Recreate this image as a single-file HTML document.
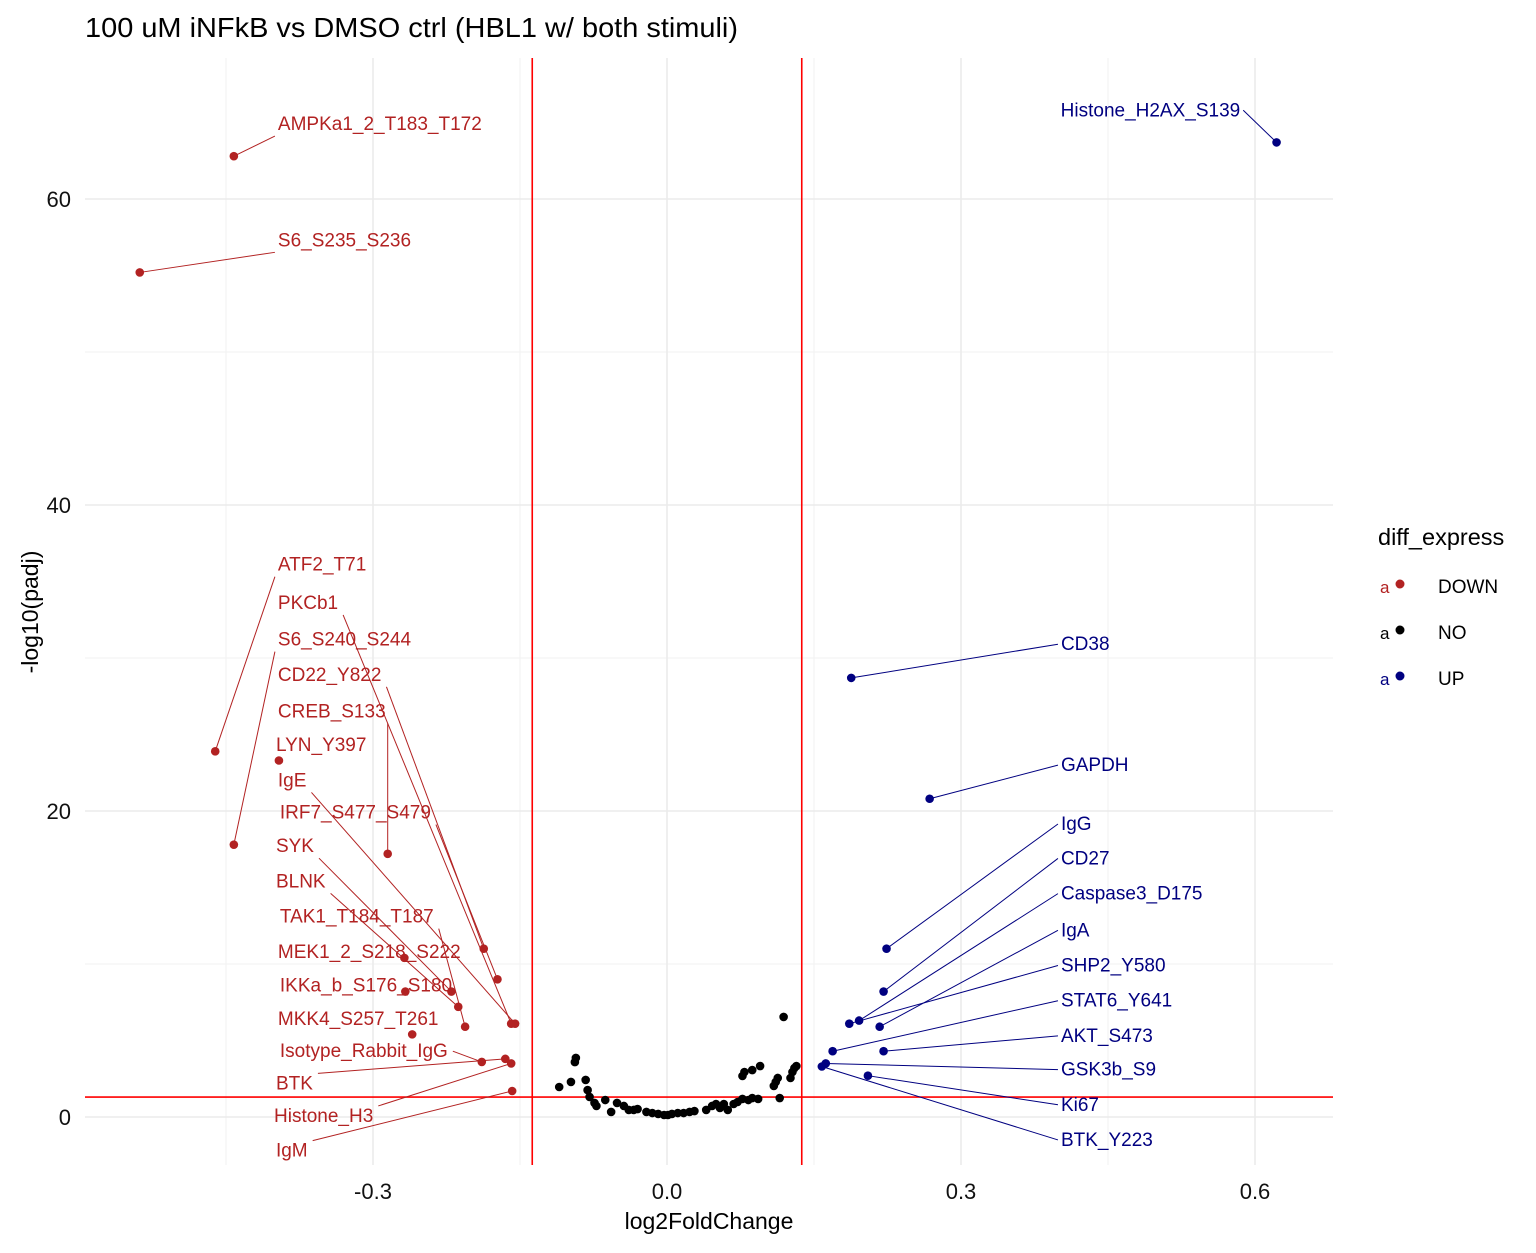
<!DOCTYPE html>
<html><head><meta charset="utf-8"><style>
body{margin:0;background:#fff;font-family:"Liberation Sans",sans-serif}
svg text{font-family:"Liberation Sans",sans-serif}
</style></head><body>
<svg id="chart" width="1536" height="1248" xmlns="http://www.w3.org/2000/svg">
<rect width="1536" height="1248" fill="#fff"/>
<text x="85" y="37" font-size="28" fill="#000" textLength="653" lengthAdjust="spacingAndGlyphs">100 uM iNFkB vs DMSO ctrl (HBL1 w/ both stimuli)</text>
<g id="grid"></g><g id="refs"></g><g id="segs"></g><g id="pts"></g><g id="labs"></g><g id="axes"></g>
<text x="709" y="1229" font-size="23" text-anchor="middle">log2FoldChange</text>
<text transform="translate(38,612) rotate(-90)" font-size="23" text-anchor="middle">-log10(padj)</text>
<g>
<text x="1378" y="545" font-size="23.5">diff_express</text>
<g><text x="1380" y="593" font-size="17" fill="#B22222">a</text><circle cx="1400" cy="584" r="4.5" fill="#B22222"/><text x="1438" y="593" font-size="19">DOWN</text></g>
<g><text x="1380" y="639" font-size="17" fill="#000">a</text><circle cx="1400" cy="630" r="4.5" fill="#000"/><text x="1438" y="639" font-size="19">NO</text></g>
<g><text x="1380" y="685" font-size="17" fill="#000080">a</text><circle cx="1400" cy="676" r="4.5" fill="#000080"/><text x="1438" y="685" font-size="19">UP</text></g>
</g>
</svg>
<script>
const xTicks=[-0.3,0,0.3,0.6];
const xTickLabels=["-0.3","0.0","0.3","0.6"];
const yTicks=[0,20,40,60];
const yTickLabels=["0","20","40","60"];
const xMinor=[-0.45,-0.15,0.15,0.45];
const yMinor=[10,30,50];
const fcCut=0.1375, padjCut=1.301;
const downX=[-0.442,-0.538,-0.461,-0.396,-0.442,-0.285,-0.187,-0.173,-0.268,-0.267,-0.220,-0.213,-0.206,-0.159,-0.155,-0.260,-0.189,-0.165,-0.159,-0.158];
const downY=[62.8,55.2,23.9,23.3,17.8,17.2,11.0,9.0,10.4,8.2,8.2,7.2,5.9,6.1,6.1,5.4,3.6,3.8,3.5,1.7];
const upX=[0.622,0.188,0.268,0.224,0.221,0.186,0.196,0.217,0.169,0.221,0.162,0.158,0.205];
const upY=[63.7,28.7,20.8,11.0,8.2,6.1,6.3,5.9,4.3,4.3,3.5,3.3,2.7];
const noX=[-0.110,-0.098,-0.094,-0.093,-0.083,-0.081,-0.079,-0.074,-0.072,-0.063,-0.057,-0.051,-0.044,-0.039,-0.034,-0.030,-0.021,-0.015,-0.009,-0.003,0.001,0.005,0.011,0.017,0.023,0.028,0.040,0.046,0.050,0.054,0.058,0.062,0.068,0.072,0.077,0.083,0.087,0.093,0.077,0.079,0.087,0.095,0.109,0.111,0.113,0.115,0.119,0.126,0.128,0.130,0.132];
const noY=[1.96,2.29,3.59,3.86,2.42,1.76,1.31,0.92,0.72,1.11,0.33,0.92,0.72,0.46,0.46,0.52,0.33,0.26,0.20,0.13,0.13,0.20,0.26,0.26,0.33,0.39,0.46,0.72,0.85,0.59,0.85,0.46,0.85,0.98,1.18,1.11,1.24,1.18,2.68,2.94,3.07,3.33,2.03,2.29,2.55,1.24,6.54,2.55,2.94,3.20,3.33];
const downLabels=["AMPKa1_2_T183_T172","S6_S235_S236","ATF2_T71","PKCb1","S6_S240_S244","CD22_Y822","CREB_S133","LYN_Y397","IgE","IRF7_S477_S479","SYK","BLNK","TAK1_T184_T187","MEK1_2_S218_S222","IKKa_b_S176_S180","MKK4_S257_T261","Isotype_Rabbit_IgG","BTK","Histone_H3","IgM"];
const downLabelPt=[0,1,2,13,4,6,5,3,14,7,10,11,12,8,9,15,16,17,18,19];
const downLabelX=[-0.396,-0.396,-0.396,-0.396,-0.396,-0.396,-0.396,-0.398,-0.396,-0.394,-0.398,-0.398,-0.394,-0.396,-0.394,-0.396,-0.394,-0.398,-0.400,-0.398];
const downLabelY=[64.9,57.3,36.1,33.6,31.2,28.9,26.5,24.3,22.0,19.9,17.7,15.4,13.1,10.8,8.6,6.4,4.3,2.2,0.07,-2.2];
const upLabels=["Histone_H2AX_S139","CD38","GAPDH","IgG","CD27","Caspase3_D175","IgA","SHP2_Y580","STAT6_Y641","AKT_S473","GSK3b_S9","Ki67","BTK_Y223"];
const upLabelPt=[0,1,2,3,4,6,7,5,8,9,10,12,11];
const upLabelX=[0.588,0.402,0.402,0.402,0.402,0.402,0.402,0.402,0.402,0.402,0.402,0.402,0.402];
const upLabelY=[65.8,30.9,23.0,19.15,16.9,14.6,12.2,9.9,7.6,5.3,3.1,0.8,-1.5];

const X=v=>667+v*980, Y=v=>1117-v*15.3;
const L=85,R=1333,T=58,B=1165;
const NS="http://www.w3.org/2000/svg";
function mk(tag,parent,attrs){const e=document.createElementNS(NS,tag);for(const k in attrs)e.setAttribute(k,attrs[k]);document.getElementById(parent).appendChild(e);return e;}
xMinor.forEach(v=>{const e=mk('line','grid',{x1:X(v),x2:X(v),y1:T,y2:B,stroke:'#f2f2f2','stroke-width':1});

});
yMinor.forEach(v=>{const e=mk('line','grid',{x1:L,x2:R,y1:Y(v),y2:Y(v),stroke:'#f2f2f2','stroke-width':1});

});
xTicks.forEach((v,i)=>{const e=mk('line','grid',{x1:X(v),x2:X(v),y1:T,y2:B,stroke:'#ebebeb','stroke-width':1.6});


const t=mk('text','axes',{x:X(v),y:1199,'font-size':22,'text-anchor':'middle',fill:'#111'});t.textContent=xTickLabels[i];

});
yTicks.forEach((v,i)=>{const e=mk('line','grid',{x1:L,x2:R,y1:Y(v),y2:Y(v),stroke:'#ebebeb','stroke-width':1.6});


const t=mk('text','axes',{x:71,y:Y(v)+8,'font-size':22,'text-anchor':'end',fill:'#111'});t.textContent=yTickLabels[i];

});
[-fcCut,fcCut].forEach(v=>{const e=mk('line','refs',{x1:X(v),x2:X(v),y1:T,y2:B,stroke:'#ff0000','stroke-width':1.6});

});
{const e=mk('line','refs',{x1:L,x2:R,y1:Y(padjCut),y2:Y(padjCut),stroke:'#ff0000','stroke-width':1.6});

}
noX.forEach((v,i)=>{const c=mk('circle','pts',{cx:X(v),cy:Y(noY[i]),r:4.3,fill:'#000'});

});
downX.forEach((v,i)=>{const c=mk('circle','pts',{cx:X(v),cy:Y(downY[i]),r:4.3,fill:'#B22222'});

});
upX.forEach((v,i)=>{const c=mk('circle','pts',{cx:X(v),cy:Y(upY[i]),r:4.3,fill:'#000080'});

});
downLabels.forEach((s,i)=>{const p=downLabelPt[i];const lx=X(downLabelX[i]),ly=Y(downLabelY[i]);
const t=mk('text','labs',{x:lx-1,y:ly+6,'font-size':19,fill:'#B22222'});t.textContent=s;


const w=t.getComputedTextLength();const px=X(downX[p]),py=Y(downY[p]);
let ax=px<lx?lx-4:(px>lx+w+4?lx+w+4:px);let ay=py<ly-12?ly-10:(py>ly+12?ly+12:ly);
if(Math.hypot(ax-px,ay-py)>10){const g=mk('line','segs',{x1:px,y1:py,x2:ax,y2:ay,stroke:'#B22222','stroke-width':1});

}});
upLabels.forEach((s,i)=>{const p=upLabelPt[i];const lx=X(upLabelX[i]);const ly=Y(upLabelY[i]);
const px=X(upX[p]),py=Y(upY[p]);
let ax;
const t=mk('text','labs',{x:lx,y:ly+6,'font-size':19,fill:'#000080'});t.textContent=s;


if(px>lx){t.setAttribute('text-anchor','end');t.setAttribute('x',lx-3);ax=lx;}else{ax=lx-3;}
const g=mk('line','segs',{x1:px,y1:py,x2:ax,y2:ly,stroke:'#000080','stroke-width':1});

});
</script>
</body></html>
